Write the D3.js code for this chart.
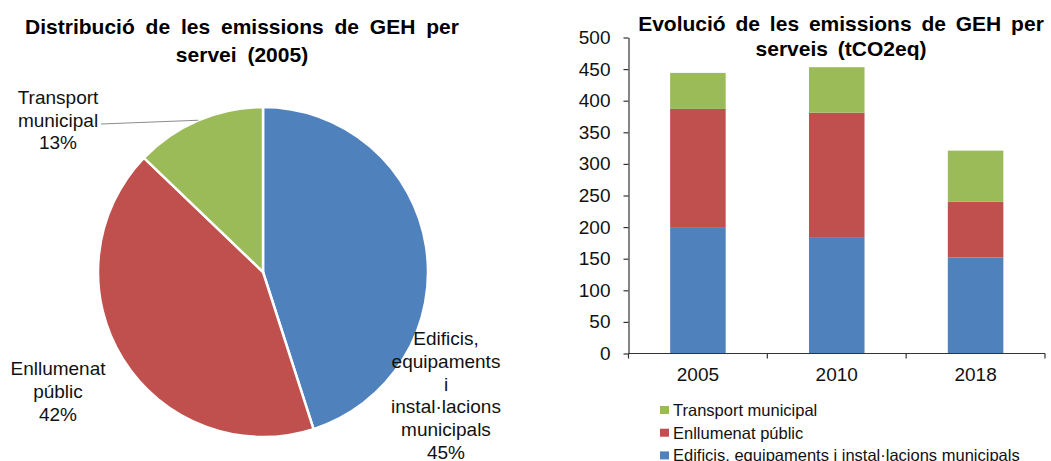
<!DOCTYPE html>
<html>
<head>
<meta charset="utf-8">
<script src="https://cdn.jsdelivr.net/npm/d3@7"></script>
<style>
  body { margin: 0; background: #fff; }
  svg { display: block; font-family: "Liberation Sans", Arial, sans-serif; }
  .axis path, .axis line { stroke: #333; stroke-width: 1.2px; }
  .axis text { font-size: 19px; fill: #111; }
</style>
</head>
<body>
<div class="plot"></div>
<script>
// DATA
var years = ["2005", "2010", "2018"];
var services = ["Edificis, equipaments i instal·lacions municipals", "Enllumenat públic", "Transport municipal"];
var edificis = [200, 183, 152];
var enllumenat = [187, 198, 88];
var transport = [57, 72, 81];
var pieLabelLines = [
  ["Edificis,", "equipaments", "i", "instal·lacions", "municipals"],
  ["Enllumenat", "públic"],
  ["Transport", "municipal"]
];
var yTicks = [0, 50, 100, 150, 200, 250, 300, 350, 400, 450, 500];
var colors = ["#4F81BD", "#C0504D", "#9BBB59"];

var w = 1051;
var h = 461;

var svg = d3.select(".plot").append("svg").attr("width", w).attr("height", h);

// PIE (2005)
var pieValues = [edificis[0], enllumenat[0], transport[0]];
var pieTotal = d3.sum(pieValues);
var cx = 263, cy = 272, r = 165;

svg.append("text")
  .attr("x", 242).attr("y", 34)
  .attr("text-anchor", "middle")
  .attr("font-size", "21px").attr("font-weight", "bold")
  .attr("word-spacing", "5px")
  .text("Distribució de les emissions de GEH per");
svg.append("text")
  .attr("x", 242).attr("y", 62)
  .attr("text-anchor", "middle")
  .attr("font-size", "21px").attr("font-weight", "bold")
  .attr("word-spacing", "5px")
  .text("servei (2005)");

var pie = d3.pie().sort(null).value(function(d) { return d; });
var arc = d3.arc().innerRadius(0).outerRadius(r);
var arcs = pie(pieValues);

var pieG = svg.append("g").attr("transform", "translate(" + cx + "," + cy + ")");
pieG.selectAll("path")
  .data(arcs)
  .enter()
  .append("path")
  .attr("d", arc)
  .attr("fill", function(d, i) { return colors[i]; })
  .attr("stroke", "#fff")
  .attr("stroke-width", 2.5);

// label positions (relative to pie centre), line spacing
var labelPos = [
  { x: 183, y: 73, dy: 22.8 },
  { x: -205, y: 103, dy: 23 },
  { x: -205, y: -168, dy: 22.5 }
];

arcs.forEach(function(a, i) {
  var lines = pieLabelLines[i].concat([Math.round(a.data / pieTotal * 100) + "%"]);
  var p = labelPos[i];
  var t = pieG.append("text")
    .attr("text-anchor", "middle")
    .attr("font-size", "19px")
    .attr("fill", "#111");
  lines.forEach(function(l, j) {
    t.append("tspan").attr("x", p.x).attr("y", p.y + j * p.dy).text(l);
  });
});

// leader line for Transport
var tr = arcs[2];
var mid = (tr.startAngle + tr.endAngle) / 2;
pieG.append("line")
  .attr("x1", -162).attr("y1", -148)
  .attr("x2", r * Math.sin(mid)).attr("y2", -r * Math.cos(mid))
  .attr("stroke", "#8c8c8c").attr("stroke-width", 1);

// STACKED BARS
var x0 = 628.5, x1 = 1045, yBase = 353.5, yTop = 37.5;

var xScale = d3.scaleBand().domain(years).range([x0, x1]).paddingInner(0.6).paddingOuter(0.3);
var yScale = d3.scaleLinear().domain([0, 500]).range([yBase, yTop]);

svg.append("text")
  .attr("x", 841).attr("y", 31)
  .attr("text-anchor", "middle")
  .attr("font-size", "21px").attr("font-weight", "bold")
  .attr("word-spacing", "4px")
  .text("Evolució de les emissions de GEH per");
svg.append("text")
  .attr("x", 841).attr("y", 56)
  .attr("text-anchor", "middle")
  .attr("font-size", "21px").attr("font-weight", "bold")
  .attr("word-spacing", "4px")
  .text("serveis (tCO2eq)");

var rows = years.map(function(y, i) {
  return { year: y, e: edificis[i], n: enllumenat[i], t: transport[i] };
});
var stacked = d3.stack().keys(["e", "n", "t"])(rows);

svg.selectAll("g.layer")
  .data(stacked)
  .enter()
  .append("g")
  .attr("class", "layer")
  .attr("fill", function(d, i) { return colors[i]; })
  .selectAll("rect")
  .data(function(d) { return d; })
  .enter()
  .append("rect")
  .attr("x", function(d) { return xScale(d.data.year); })
  .attr("width", xScale.bandwidth())
  .attr("y", function(d) { return yScale(d[1]); })
  .attr("height", function(d) { return yScale(d[0]) - yScale(d[1]); });

// axes
var yAxis = d3.axisLeft(yScale).tickValues(yTicks).tickSize(5).tickPadding(13).tickSizeOuter(0);
svg.append("g")
  .attr("class", "axis")
  .attr("transform", "translate(" + x0 + ",0)")
  .call(yAxis);

var step = (x1 - x0) / years.length;
var xAxis = d3.axisBottom(xScale).tickSize(0).tickPadding(14).tickSizeOuter(0);
var gx = svg.append("g")
  .attr("class", "axis")
  .attr("transform", "translate(0," + yBase + ")")
  .call(xAxis);
gx.select(".domain").attr("d", "M" + x0 + ",0H" + x1);
gx.selectAll("line.sep")
  .data(d3.range(years.length + 1))
  .enter()
  .append("line")
  .attr("class", "sep")
  .attr("x1", function(i) { return x0 + i * step; })
  .attr("x2", function(i) { return x0 + i * step; })
  .attr("y1", 0).attr("y2", 5);

// legend (reverse order)
var legendOrder = [2, 1, 0];
var leg = svg.append("g").attr("transform", "translate(660,0)");
legendOrder.forEach(function(k, j) {
  var yy = 410 + j * 22.7;
  leg.append("rect").attr("x", 0).attr("y", yy - 4).attr("width", 9).attr("height", 8).attr("fill", colors[k]);
  leg.append("text").attr("x", 13).attr("y", yy + 6)
    .attr("font-size", "16.5px").attr("fill", "#111")
    .text(services[k]);
});
</script>
</body>
</html>
